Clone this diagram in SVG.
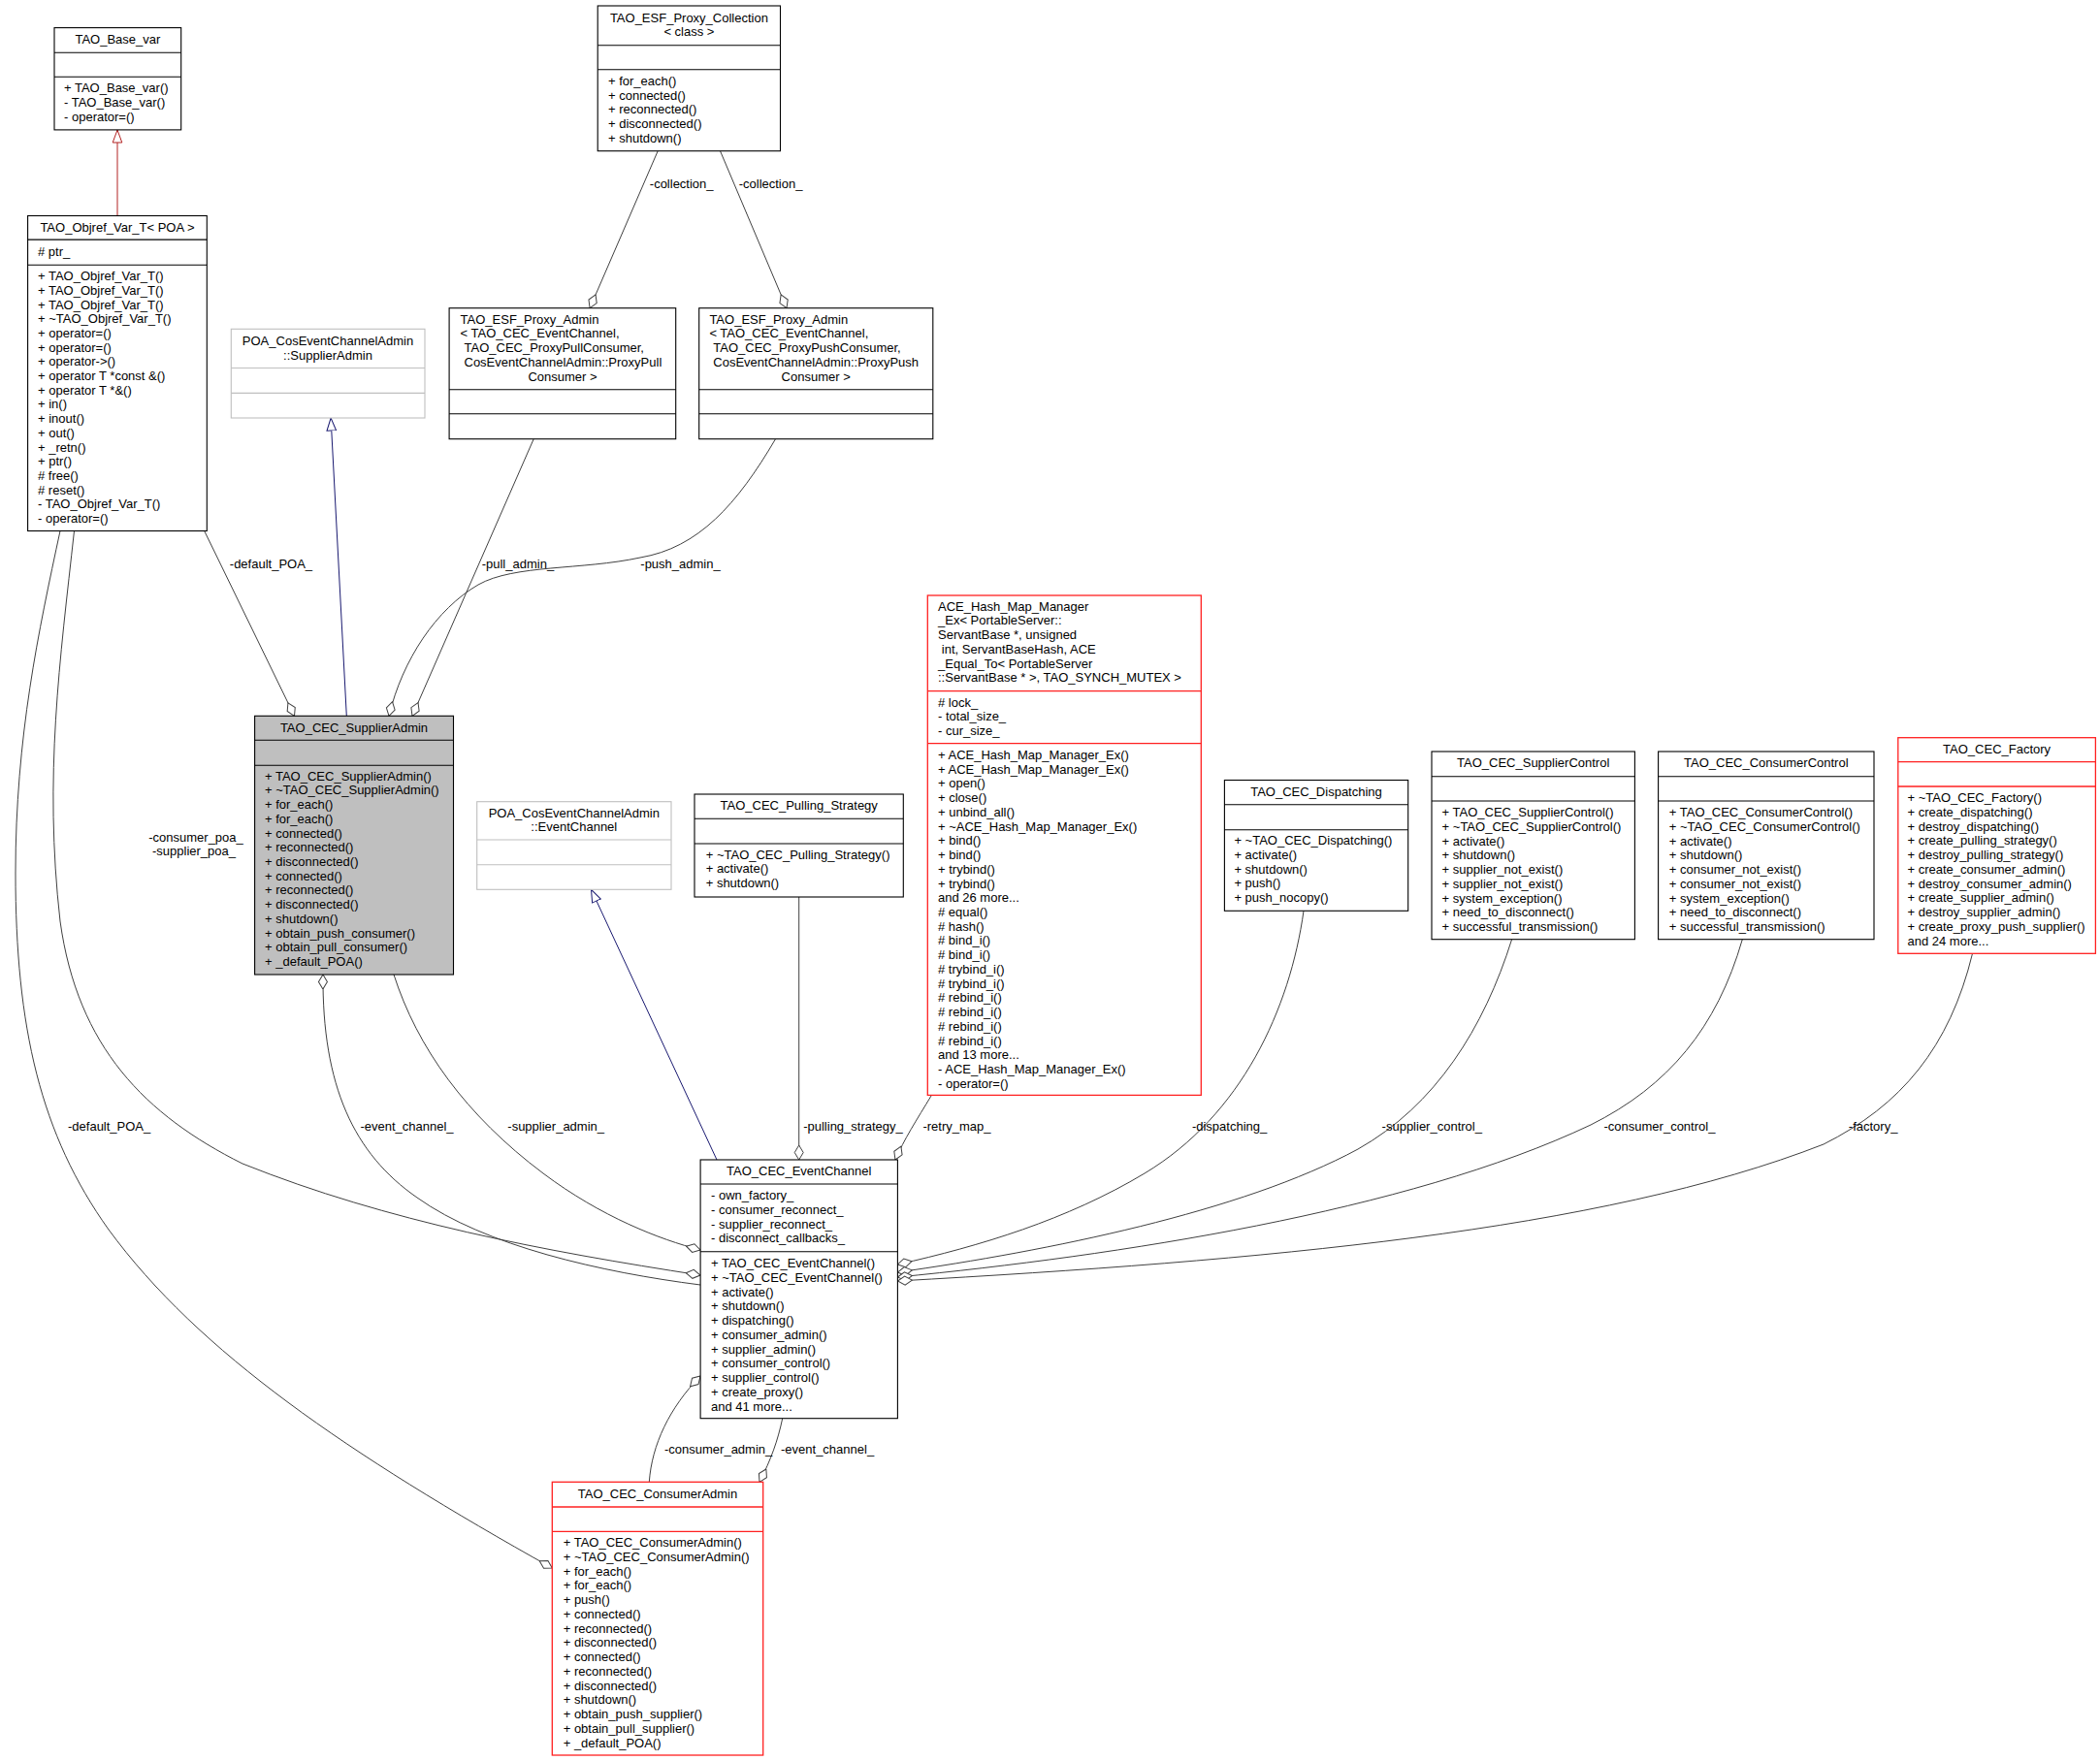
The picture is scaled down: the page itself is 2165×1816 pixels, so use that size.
<svg xmlns="http://www.w3.org/2000/svg" width="2165" height="1816" viewBox="0 0 2165 1816">
<style>
text{font-family:"Liberation Sans",Arial,Helvetica,sans-serif;font-size:13px;fill:#000}
.c{text-anchor:middle}
.n rect{fill:#fff;stroke:#000;stroke-width:1.1}
.n line{stroke:#000;stroke-width:1.1}
.g rect{fill:#fff;stroke:#bfbfbf;stroke-width:1.1}
.g line{stroke:#bfbfbf;stroke-width:1.1}
.r rect{fill:#fff;stroke:#ff2020;stroke-width:1.3}
.r line{stroke:#ff2020;stroke-width:1.3}
.s rect{fill:#bfbfbf;stroke:#000;stroke-width:1.1}
.s line{stroke:#000;stroke-width:1.1}
.e path{fill:none;stroke:#404040;stroke-width:1}
.e path.a{marker-end:url(#dia)}
.e path.red{stroke:#b22222;marker-end:url(#tr)}
.e path.blue{stroke:#191970;marker-end:url(#tb)}
</style>
<defs>
<marker id="dia" viewBox="0 0 16 11" refX="15.5" refY="5.5" markerWidth="16" markerHeight="11" markerUnits="userSpaceOnUse" orient="auto"><path d="M0.5,5.5 L8,1 L15.5,5.5 L8,10 Z" fill="#fff" stroke="#404040" stroke-width="1"/></marker>
<marker id="tr" viewBox="0 0 14 12" refX="13.5" refY="6" markerWidth="14" markerHeight="12" markerUnits="userSpaceOnUse" orient="auto"><path d="M0.5,1.2 L13.5,6 L0.5,10.8 Z" fill="#fff" stroke="#b22222" stroke-width="1"/></marker>
<marker id="tb" viewBox="0 0 14 12" refX="13.5" refY="6" markerWidth="14" markerHeight="12" markerUnits="userSpaceOnUse" orient="auto"><path d="M0.5,1.2 L13.5,6 L0.5,10.8 Z" fill="#fff" stroke="#191970" stroke-width="1"/></marker>
</defs>
<rect width="2165" height="1816" fill="#fff"/>

<g id="connectors" class="e">
<path class="red" d="M121,222.5 L121,134"/>
<path class="blue" d="M357.3,738.3 L341.1,431"/>
<path class="blue" d="M739,1196 L609.5,917.3"/>
<path class="a" d="M678.2,155.7 L608.1,317.7"/>
<path class="a" d="M742.5,155.7 L811,317.7"/>
<path class="a" d="M210.7,547.5 L303.5,738.3"/>
<path class="a" d="M550.2,452.7 L425,738.3"/>
<path class="a" d="M799.5,452.7 C760,520 720,565 660,575 C600,588 530,582 493,603 C450,628 415,680 401,738.3"/>
<path class="a" d="M722,1325 C620,1312 500,1285 430,1235 C365,1190 332,1120 333,1005"/>
<path class="a" d="M406,1005 C430,1080 480,1150 560,1210 C620,1255 680,1278 722,1289"/>
<path class="a" d="M76.5,547.5 C62,680 45,800 62,950 C80,1080 150,1150 250,1200 C400,1260 560,1290 722,1315"/>
<path class="a" d="M62,547.5 C40,650 16,760 16,900 C16,1060 42,1170 112,1268 C205,1395 360,1500 569.3,1617"/>
<path class="a" d="M669.3,1528.3 C672,1490 690,1452 722,1419"/>
<path class="a" d="M806.7,1462.7 C802,1485 795,1505 783,1528.3"/>
<path class="a" d="M823.7,925 L823.7,1196"/>
<path class="a" d="M960.4,1129.4 C945,1155 932,1175 923,1196"/>
<path class="a" d="M1344,939.3 C1330,1040 1280,1150 1180,1210 C1100,1258 1010,1285 925.4,1304"/>
<path class="a" d="M1558.6,968.7 C1530,1060 1480,1140 1400,1185 C1280,1250 1080,1290 925.4,1312"/>
<path class="a" d="M1796.3,968.7 C1770,1060 1720,1120 1640,1160 C1450,1250 1150,1295 925.4,1317"/>
<path class="a" d="M2033.5,983.3 C2010,1080 1960,1140 1880,1180 C1650,1270 1300,1300 925.4,1321"/>
<text x="669.8" y="193.5">-collection_</text>
<text x="761.7" y="193.5">-collection_</text>
<text x="236.8" y="585.5">-default_POA_</text>
<text x="496.7" y="585.5">-pull_admin_</text>
<text x="660.3" y="585.5">-push_admin_</text>
<text class="c" x="202" y="867.5">-consumer_poa_</text>
<text class="c" x="200" y="882.2">-supplier_poa_</text>
<text x="70" y="1166">-default_POA_</text>
<text x="371.4" y="1166">-event_channel_</text>
<text x="523.3" y="1166">-supplier_admin_</text>
<text x="828.2" y="1166">-pulling_strategy_</text>
<text x="951.4" y="1166">-retry_map_</text>
<text x="1228.9" y="1166">-dispatching_</text>
<text x="1424.6" y="1166">-supplier_control_</text>
<text x="1653.5" y="1166">-consumer_control_</text>
<text x="1905.8" y="1166">-factory_</text>
<text x="685" y="1499">-consumer_admin_</text>
<text x="805" y="1499">-event_channel_</text>
</g>

<g id="TAO_Base_var" class="n">
<rect x="56" y="28.6" width="130.7" height="105.3"/>
<line x1="56" y1="54.3" x2="186.7" y2="54.3"/>
<line x1="56" y1="79.3" x2="186.7" y2="79.3"/>
<text class="c" x="121.4" y="45">TAO_Base_var</text>
<text x="66" y="94.9">+ TAO_Base_var()</text>
<text x="66" y="109.7">- TAO_Base_var()</text>
<text x="66" y="124.5">- operator=()</text>
</g>

<g id="TAO_Objref_Var_T" class="n">
<rect x="28.6" y="222.5" width="184.7" height="325"/>
<line x1="28.6" y1="247.1" x2="213.3" y2="247.1"/>
<line x1="28.6" y1="273.2" x2="213.3" y2="273.2"/>
<text class="c" x="121" y="239">TAO_Objref_Var_T&lt; POA &gt;</text>
<text x="39" y="264">#  ptr_</text>
<text x="39" y="289.1">+ TAO_Objref_Var_T()</text>
<text x="39" y="303.8">+ TAO_Objref_Var_T()</text>
<text x="39" y="318.5">+ TAO_Objref_Var_T()</text>
<text x="39" y="333.2">+ ~TAO_Objref_Var_T()</text>
<text x="39" y="347.9">+ operator=()</text>
<text x="39" y="362.6">+ operator=()</text>
<text x="39" y="377.3">+ operator-&gt;()</text>
<text x="39" y="392">+ operator T *const &amp;()</text>
<text x="39" y="406.7">+ operator T *&amp;()</text>
<text x="39" y="421.4">+ in()</text>
<text x="39" y="436.1">+ inout()</text>
<text x="39" y="450.8">+ out()</text>
<text x="39" y="465.5">+ _retn()</text>
<text x="39" y="480.2">+ ptr()</text>
<text x="39" y="494.9"># free()</text>
<text x="39" y="509.6"># reset()</text>
<text x="39" y="524.3">- TAO_Objref_Var_T()</text>
<text x="39" y="539">- operator=()</text>
</g>

<g id="POA_SupplierAdmin" class="g">
<rect x="238.3" y="339.3" width="199.7" height="91.7"/>
<line x1="238.3" y1="379.5" x2="438" y2="379.5"/>
<line x1="238.3" y1="405.4" x2="438" y2="405.4"/>
<text class="c" x="338" y="355.9">POA_CosEventChannelAdmin</text>
<text class="c" x="338" y="370.9">::SupplierAdmin</text>
</g>

<g id="TAO_ESF_Proxy_Collection" class="n">
<rect x="616.2" y="6" width="188.3" height="149.7"/>
<line x1="616.2" y1="46.7" x2="804.5" y2="46.7"/>
<line x1="616.2" y1="71.7" x2="804.5" y2="71.7"/>
<text class="c" x="710.4" y="22.8">TAO_ESF_Proxy_Collection</text>
<text class="c" x="710.4" y="36.8">&lt; class &gt;</text>
<text x="627" y="87.8">+ for_each()</text>
<text x="627" y="102.6">+ connected()</text>
<text x="627" y="117.3">+ reconnected()</text>
<text x="627" y="132">+ disconnected()</text>
<text x="627" y="146.8">+ shutdown()</text>
</g>

<g id="TAO_ESF_Proxy_Admin_Pull" class="n">
<rect x="463.1" y="317.7" width="233.6" height="135"/>
<line x1="463.1" y1="401.7" x2="696.7" y2="401.7"/>
<line x1="463.1" y1="426.7" x2="696.7" y2="426.7"/>
<text x="474.6" y="333.8">TAO_ESF_Proxy_Admin</text>
<text x="474.6" y="347.8">&lt; TAO_CEC_EventChannel,</text>
<text x="478.5" y="362.8">TAO_CEC_ProxyPullConsumer,</text>
<text x="478.5" y="377.8">CosEventChannelAdmin::ProxyPull</text>
<text class="c" x="580" y="392.8">Consumer &gt;</text>
</g>

<g id="TAO_ESF_Proxy_Admin_Push" class="n">
<rect x="720.7" y="317.7" width="241.1" height="135"/>
<line x1="720.7" y1="401.7" x2="961.8" y2="401.7"/>
<line x1="720.7" y1="426.7" x2="961.8" y2="426.7"/>
<text x="731.4" y="333.8">TAO_ESF_Proxy_Admin</text>
<text x="731.4" y="347.8">&lt; TAO_CEC_EventChannel,</text>
<text x="735.3" y="362.8">TAO_CEC_ProxyPushConsumer,</text>
<text x="735.3" y="377.8">CosEventChannelAdmin::ProxyPush</text>
<text class="c" x="841.2" y="392.8">Consumer &gt;</text>
</g>

<g id="TAO_CEC_SupplierAdmin" class="s">
<rect x="262.6" y="738.3" width="204.9" height="266.7"/>
<line x1="262.6" y1="763.3" x2="467.5" y2="763.3"/>
<line x1="262.6" y1="789.3" x2="467.5" y2="789.3"/>
<text class="c" x="365" y="754.5">TAO_CEC_SupplierAdmin</text>
<text x="273" y="804.5">+ TAO_CEC_SupplierAdmin()</text>
<text x="273" y="819.2">+ ~TAO_CEC_SupplierAdmin()</text>
<text x="273" y="834">+ for_each()</text>
<text x="273" y="848.7">+ for_each()</text>
<text x="273" y="863.5">+ connected()</text>
<text x="273" y="878.2">+ reconnected()</text>
<text x="273" y="892.9">+ disconnected()</text>
<text x="273" y="907.7">+ connected()</text>
<text x="273" y="922.4">+ reconnected()</text>
<text x="273" y="937.2">+ disconnected()</text>
<text x="273" y="951.9">+ shutdown()</text>
<text x="273" y="966.6">+ obtain_push_consumer()</text>
<text x="273" y="981.4">+ obtain_pull_consumer()</text>
<text x="273" y="996.1">+ _default_POA()</text>
</g>

<g id="POA_EventChannel" class="g">
<rect x="491.7" y="826.7" width="200.3" height="90.6"/>
<line x1="491.7" y1="866" x2="692" y2="866"/>
<line x1="491.7" y1="891.7" x2="692" y2="891.7"/>
<text class="c" x="591.8" y="842.8">POA_CosEventChannelAdmin</text>
<text class="c" x="591.8" y="857.2">::EventChannel</text>
</g>

<g id="TAO_CEC_Pulling_Strategy" class="n">
<rect x="716" y="819" width="215.3" height="106"/>
<line x1="716" y1="844.3" x2="931.3" y2="844.3"/>
<line x1="716" y1="870" x2="931.3" y2="870"/>
<text class="c" x="823.7" y="835.2">TAO_CEC_Pulling_Strategy</text>
<text x="727.7" y="885.5">+ ~TAO_CEC_Pulling_Strategy()</text>
<text x="727.7" y="900.2">+ activate()</text>
<text x="727.7" y="914.9">+ shutdown()</text>
</g>

<g id="ACE_Hash_Map_Manager_Ex" class="r">
<rect x="956.3" y="614" width="282" height="515.4"/>
<line x1="956.3" y1="712.7" x2="1238.3" y2="712.7"/>
<line x1="956.3" y1="766.7" x2="1238.3" y2="766.7"/>
<text x="967" y="629.5">ACE_Hash_Map_Manager</text>
<text x="967" y="644.4">_Ex&lt; PortableServer::</text>
<text x="967" y="658.8">ServantBase *, unsigned</text>
<text x="970.8" y="673.5">int, ServantBaseHash, ACE</text>
<text x="967" y="688.6">_Equal_To&lt; PortableServer</text>
<text x="967" y="702.8">::ServantBase * &gt;, TAO_SYNCH_MUTEX &gt;</text>
<text x="967" y="728.5"># lock_</text>
<text x="967" y="743.2">- total_size_</text>
<text x="967" y="757.9">- cur_size_</text>
<text x="967" y="782.8">+ ACE_Hash_Map_Manager_Ex()</text>
<text x="967" y="797.5">+ ACE_Hash_Map_Manager_Ex()</text>
<text x="967" y="812.3">+ open()</text>
<text x="967" y="827">+ close()</text>
<text x="967" y="841.8">+ unbind_all()</text>
<text x="967" y="856.5">+ ~ACE_Hash_Map_Manager_Ex()</text>
<text x="967" y="871.2">+ bind()</text>
<text x="967" y="886">+ bind()</text>
<text x="967" y="900.7">+ trybind()</text>
<text x="967" y="915.5">+ trybind()</text>
<text x="967" y="930.2">and 26 more...</text>
<text x="967" y="944.9"># equal()</text>
<text x="967" y="959.7"># hash()</text>
<text x="967" y="974.4"># bind_i()</text>
<text x="967" y="989.2"># bind_i()</text>
<text x="967" y="1003.9"># trybind_i()</text>
<text x="967" y="1018.6"># trybind_i()</text>
<text x="967" y="1033.4"># rebind_i()</text>
<text x="967" y="1048.1"># rebind_i()</text>
<text x="967" y="1062.9"># rebind_i()</text>
<text x="967" y="1077.6"># rebind_i()</text>
<text x="967" y="1092.3">and 13 more...</text>
<text x="967" y="1107.1">- ACE_Hash_Map_Manager_Ex()</text>
<text x="967" y="1121.8">- operator=()</text>
</g>

<g id="TAO_CEC_Dispatching" class="n">
<rect x="1262.4" y="804.5" width="189.3" height="134.8"/>
<line x1="1262.4" y1="829.7" x2="1451.7" y2="829.7"/>
<line x1="1262.4" y1="855.8" x2="1451.7" y2="855.8"/>
<text class="c" x="1357" y="821.2">TAO_CEC_Dispatching</text>
<text x="1272.4" y="871.2">+ ~TAO_CEC_Dispatching()</text>
<text x="1272.4" y="885.9">+ activate()</text>
<text x="1272.4" y="900.7">+ shutdown()</text>
<text x="1272.4" y="915.4">+ push()</text>
<text x="1272.4" y="930.2">+ push_nocopy()</text>
</g>

<g id="TAO_CEC_SupplierControl" class="n">
<rect x="1476" y="775" width="209.4" height="193.7"/>
<line x1="1476" y1="800.7" x2="1685.4" y2="800.7"/>
<line x1="1476" y1="826" x2="1685.4" y2="826"/>
<text class="c" x="1580.7" y="791.2">TAO_CEC_SupplierControl</text>
<text x="1486.6" y="842.2">+ TAO_CEC_SupplierControl()</text>
<text x="1486.6" y="856.9">+ ~TAO_CEC_SupplierControl()</text>
<text x="1486.6" y="871.7">+ activate()</text>
<text x="1486.6" y="886.4">+ shutdown()</text>
<text x="1486.6" y="901.2">+ supplier_not_exist()</text>
<text x="1486.6" y="915.9">+ supplier_not_exist()</text>
<text x="1486.6" y="930.6">+ system_exception()</text>
<text x="1486.6" y="945.4">+ need_to_disconnect()</text>
<text x="1486.6" y="960.1">+ successful_transmission()</text>
</g>

<g id="TAO_CEC_ConsumerControl" class="n">
<rect x="1709.6" y="775" width="222.4" height="193.7"/>
<line x1="1709.6" y1="800.7" x2="1932" y2="800.7"/>
<line x1="1709.6" y1="826" x2="1932" y2="826"/>
<text class="c" x="1820.8" y="791.2">TAO_CEC_ConsumerControl</text>
<text x="1720.8" y="842.2">+ TAO_CEC_ConsumerControl()</text>
<text x="1720.8" y="856.9">+ ~TAO_CEC_ConsumerControl()</text>
<text x="1720.8" y="871.7">+ activate()</text>
<text x="1720.8" y="886.4">+ shutdown()</text>
<text x="1720.8" y="901.2">+ consumer_not_exist()</text>
<text x="1720.8" y="915.9">+ consumer_not_exist()</text>
<text x="1720.8" y="930.6">+ system_exception()</text>
<text x="1720.8" y="945.4">+ need_to_disconnect()</text>
<text x="1720.8" y="960.1">+ successful_transmission()</text>
</g>

<g id="TAO_CEC_Factory" class="r">
<rect x="1956.8" y="760.7" width="203.6" height="222.6"/>
<line x1="1956.8" y1="785.7" x2="2160.4" y2="785.7"/>
<line x1="1956.8" y1="811" x2="2160.4" y2="811"/>
<text class="c" x="2058.6" y="776.8">TAO_CEC_Factory</text>
<text x="1966.5" y="827.2">+ ~TAO_CEC_Factory()</text>
<text x="1966.5" y="841.9">+ create_dispatching()</text>
<text x="1966.5" y="856.7">+ destroy_dispatching()</text>
<text x="1966.5" y="871.4">+ create_pulling_strategy()</text>
<text x="1966.5" y="886.2">+ destroy_pulling_strategy()</text>
<text x="1966.5" y="900.9">+ create_consumer_admin()</text>
<text x="1966.5" y="915.6">+ destroy_consumer_admin()</text>
<text x="1966.5" y="930.4">+ create_supplier_admin()</text>
<text x="1966.5" y="945.1">+ destroy_supplier_admin()</text>
<text x="1966.5" y="959.9">+ create_proxy_push_supplier()</text>
<text x="1966.5" y="974.6">and 24 more...</text>
</g>

<g id="TAO_CEC_EventChannel" class="n">
<rect x="722.1" y="1196" width="203.3" height="266.7"/>
<line x1="722.1" y1="1221" x2="925.4" y2="1221"/>
<line x1="722.1" y1="1290.7" x2="925.4" y2="1290.7"/>
<text class="c" x="823.7" y="1211.8">TAO_CEC_EventChannel</text>
<text x="733" y="1237.2">- own_factory_</text>
<text x="733" y="1251.9">- consumer_reconnect_</text>
<text x="733" y="1266.6">- supplier_reconnect_</text>
<text x="733" y="1281.3">- disconnect_callbacks_</text>
<text x="733" y="1307.2">+ TAO_CEC_EventChannel()</text>
<text x="733" y="1321.9">+ ~TAO_CEC_EventChannel()</text>
<text x="733" y="1336.7">+ activate()</text>
<text x="733" y="1351.4">+ shutdown()</text>
<text x="733" y="1366.2">+ dispatching()</text>
<text x="733" y="1380.9">+ consumer_admin()</text>
<text x="733" y="1395.6">+ supplier_admin()</text>
<text x="733" y="1410.4">+ consumer_control()</text>
<text x="733" y="1425.1">+ supplier_control()</text>
<text x="733" y="1439.9">+ create_proxy()</text>
<text x="733" y="1454.6">and 41 more...</text>
</g>

<g id="TAO_CEC_ConsumerAdmin" class="r">
<rect x="569.3" y="1528.3" width="217.4" height="281.7"/>
<line x1="569.3" y1="1554" x2="786.7" y2="1554"/>
<line x1="569.3" y1="1579.3" x2="786.7" y2="1579.3"/>
<text class="c" x="678" y="1544.5">TAO_CEC_ConsumerAdmin</text>
<text x="580.7" y="1595.2">+ TAO_CEC_ConsumerAdmin()</text>
<text x="580.7" y="1609.9">+ ~TAO_CEC_ConsumerAdmin()</text>
<text x="580.7" y="1624.7">+ for_each()</text>
<text x="580.7" y="1639.4">+ for_each()</text>
<text x="580.7" y="1654.2">+ push()</text>
<text x="580.7" y="1668.9">+ connected()</text>
<text x="580.7" y="1683.6">+ reconnected()</text>
<text x="580.7" y="1698.4">+ disconnected()</text>
<text x="580.7" y="1713.1">+ connected()</text>
<text x="580.7" y="1727.9">+ reconnected()</text>
<text x="580.7" y="1742.6">+ disconnected()</text>
<text x="580.7" y="1757.3">+ shutdown()</text>
<text x="580.7" y="1772.1">+ obtain_push_supplier()</text>
<text x="580.7" y="1786.8">+ obtain_pull_supplier()</text>
<text x="580.7" y="1801.6">+ _default_POA()</text>
</g>
</svg>
